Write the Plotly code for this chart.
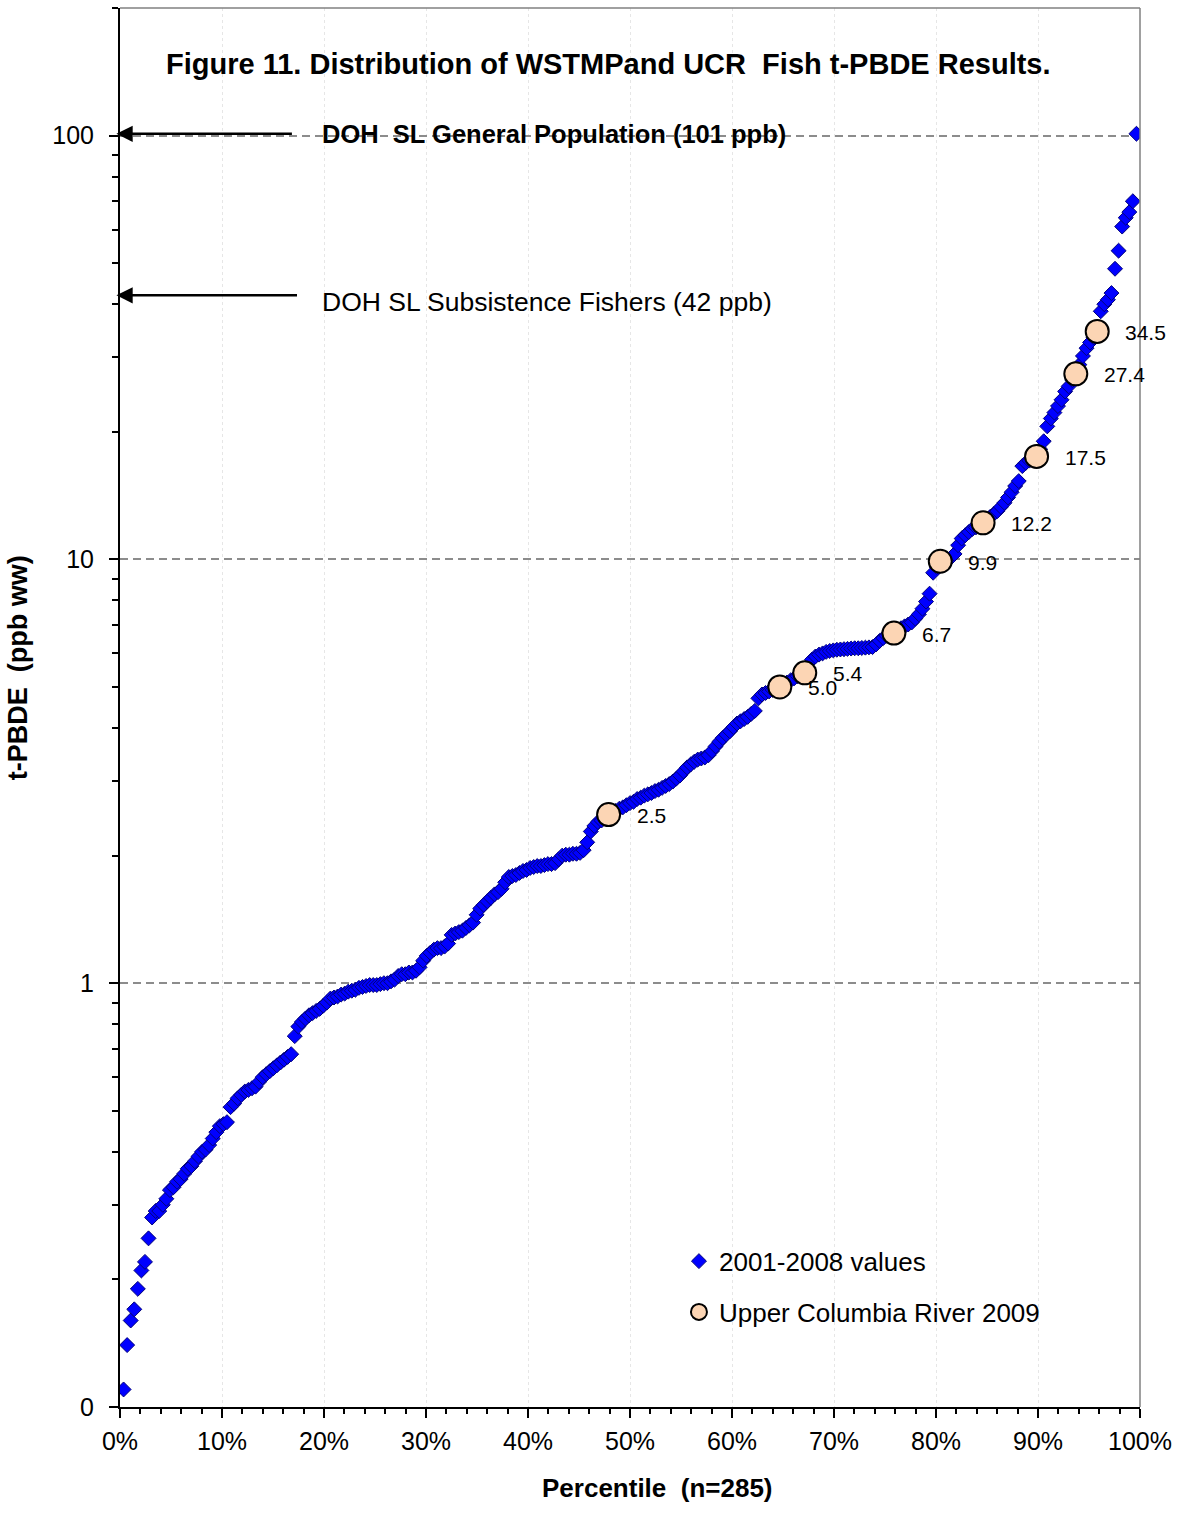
import numpy as np
import plotly.graph_objects as go

# 2001-2008 WSTMP t-PBDE values (ppb ww), sorted
wstmp_values = [
    0.11, 0.14, 0.16, 0.17, 0.19, 0.21, 0.22, 0.25, 0.28, 0.29,
    0.29, 0.30, 0.31, 0.325, 0.33, 0.34, 0.345, 0.355, 0.365, 0.37,
    0.38, 0.39, 0.40, 0.405, 0.415, 0.43, 0.445, 0.46, 0.465, 0.47,
    0.51, 0.52, 0.535, 0.545, 0.555, 0.56, 0.565, 0.57, 0.585, 0.60,
    0.61, 0.62, 0.63, 0.64, 0.65, 0.66, 0.67, 0.68, 0.75, 0.79,
    0.81, 0.825, 0.84, 0.85, 0.86, 0.87, 0.885, 0.90, 0.92, 0.925,
    0.93, 0.94, 0.945, 0.955, 0.96, 0.965, 0.975, 0.98, 0.985, 0.99,
    0.99, 0.99, 0.995, 1.00, 1.00, 1.01, 1.02, 1.04, 1.05, 1.05,
    1.06, 1.06, 1.07, 1.09, 1.13, 1.16, 1.18, 1.20, 1.21, 1.21,
    1.22, 1.24, 1.30, 1.31, 1.32, 1.33, 1.35, 1.37, 1.39, 1.45,
    1.50, 1.53, 1.56, 1.59, 1.62, 1.64, 1.67, 1.73, 1.78, 1.79,
    1.80, 1.82, 1.84, 1.85, 1.87, 1.88, 1.89, 1.89, 1.90, 1.91,
    1.91, 1.92, 1.96, 2.00, 2.01, 2.01, 2.02, 2.02, 2.03, 2.06,
    2.15, 2.28, 2.35, 2.40, 2.42, 2.45,
    2.52, 2.55, 2.58, 2.60, 2.63, 2.66,
    2.68, 2.72, 2.74, 2.77, 2.79, 2.81, 2.84,
    2.86, 2.89, 2.92, 2.95, 2.99, 3.04, 3.09, 3.16, 3.23, 3.28,
    3.33, 3.37, 3.39, 3.41, 3.45, 3.53, 3.62, 3.71, 3.79, 3.86,
    3.93, 4.02, 4.10, 4.15, 4.20, 4.25, 4.32, 4.39, 4.70, 4.80,
    4.84, 4.88, 4.92, 4.96,
    5.05, 5.12, 5.18, 5.24, 5.30, 5.36,
    5.55, 5.80, 5.90, 5.96, 6.00, 6.05, 6.08, 6.10,
    6.12, 6.13, 6.14, 6.15, 6.16, 6.17, 6.17, 6.18, 6.19, 6.20,
    6.21, 6.30, 6.42, 6.52, 6.60, 6.65,
    6.80, 6.88, 6.95, 7.02, 7.10, 7.25, 7.42, 7.65, 7.95, 8.30, 9.30, 9.60,
    9.95, 10.0, 10.1, 10.3, 10.8, 11.2, 11.4, 11.6, 11.8, 11.9, 12.0,
    12.4, 12.6, 12.8, 13.0, 13.3, 13.6, 14.0, 14.4, 14.9, 15.3, 16.6, 16.9, 17.1, 17.3,
    18.2, 19.0, 20.6, 21.5, 22.2, 23.0, 23.8, 24.9, 25.6, 26.5,
    28.8, 30.2, 31.5, 32.5, 33.4,
    38.5, 40.0, 41.0, 42.5, 48.5, 53.5, 61.0, 64.0, 66.0, 70.0, 101.0,
]

# Upper Columbia River 2009 values (ppb ww)
ucr_values = [2.5, 5.0, 5.4, 6.7, 9.9, 12.2, 17.5, 27.4, 34.5]
ucr_labels = ["2.5", "5.0", "5.4", "6.7", "9.9", "12.2", "17.5", "27.4", "34.5"]

# Screening levels
sl_general = 101
sl_subsistence = 42

x_tick_vals = [0, 10, 20, 30, 40, 50, 60, 70, 80, 90, 100]
x_tick_text = ["0%", "10%", "20%", "30%", "40%", "50%", "60%", "70%", "80%", "90%", "100%"]
y_tick_vals = [0.1, 1, 10, 100]
y_tick_text = ["0", "1", "10", "100"]

# ---- percentile ranks over the combined data set ----
combined = np.array(wstmp_values + ucr_values, dtype=float)
is_ucr = np.array([False] * len(wstmp_values) + [True] * len(ucr_values))
order = np.argsort(combined, kind="stable")
n_total = len(combined)
pct = np.empty(n_total)
pct[order] = (np.arange(1, n_total + 1) / (n_total + 1)) * 100.0
w_pct = pct[~is_ucr]
u_pct = pct[is_ucr]

FONT = "Liberation Sans, Arial, sans-serif"

fig = go.Figure()
fig.add_trace(go.Scatter(
    x=w_pct, y=wstmp_values, mode="markers", name="2001-2008 values",
    legendgroup="a",
    marker=dict(symbol="diamond", size=11.5, color="#0000FF",
                line=dict(color="#00007A", width=1)),
))
fig.add_trace(go.Scatter(
    x=u_pct, y=ucr_values, mode="markers", name="Upper Columbia River 2009",
    legendgroup="b",
    marker=dict(symbol="circle", size=23, color="#FCD5B4",
                line=dict(color="black", width=2)),
))

annotations = []
for xv, yv, lab in zip(u_pct, ucr_values, ucr_labels):
    annotations.append(dict(
        x=xv, y=np.log10(yv), xref="x", yref="y", text=lab, showarrow=False,
        xanchor="left", yanchor="middle", xshift=26, yshift=-1,
        font=dict(family=FONT, size=21, color="black"),
    ))

# arrows for screening levels
for val, tail in [(sl_general, 17.0), (sl_subsistence, 17.5)]:
    annotations.append(dict(
        x=-0.35, y=np.log10(val), xref="x", yref="y",
        ax=tail, ay=np.log10(val), axref="x", ayref="y",
        showarrow=True, arrowhead=2, arrowsize=1.3, arrowwidth=2.5,
        arrowcolor="black", text="",
    ))
annotations.append(dict(
    x=19.6, y=np.log10(sl_general), xref="x", yref="y",
    text="<b>DOH  SL General Population (101 ppb)</b>", showarrow=False,
    xanchor="left", yanchor="middle",
    font=dict(family=FONT, size=25.5, color="black"),
))
annotations.append(dict(
    x=19.6, y=np.log10(40.5), xref="x", yref="y",
    text="DOH SL Subsistence Fishers (42 ppb)", showarrow=False,
    xanchor="left", yanchor="middle",
    font=dict(family=FONT, size=26.5, color="black"),
))
# title
annotations.append(dict(
    x=0.479, y=0.96, xref="paper", yref="paper",
    text="<b>Figure 11. Distribution of WSTMPand UCR  Fish t-PBDE Results.</b>",
    showarrow=False, xanchor="center", yanchor="middle",
    font=dict(family=FONT, size=29, color="black"),
))
# axis titles
annotations.append(dict(
    x=0.527, y=-0.058, xref="paper", yref="paper",
    text="<b>Percentile  (n=285)</b>", showarrow=False,
    xanchor="center", yanchor="middle",
    font=dict(family=FONT, size=26, color="black"),
))
annotations.append(dict(
    x=-0.1, y=0.528, xref="paper", yref="paper",
    text="<b>t-PBDE  (ppb ww)</b>", showarrow=False, textangle=-90,
    xanchor="center", yanchor="middle",
    font=dict(family=FONT, size=27, color="black"),
))

minor_y = []
for dec in [0.1, 1, 10, 100]:
    for m in range(2, 10):
        v = dec * m
        if v <= 200:
            minor_y.append(v)

fig.update_layout(
    width=1183, height=1515,
    margin=dict(l=120, r=43, t=8, b=108),
    paper_bgcolor="white", plot_bgcolor="white",
    font=dict(family=FONT, color="black"),
    showlegend=True,
    legend=dict(
        x=0.548, y=0.121, xanchor="left", yanchor="top",
        font=dict(family=FONT, size=26, color="black"),
        bgcolor="rgba(0,0,0,0)", traceorder="grouped", tracegroupgap=14,
        itemwidth=30,
    ),
    annotations=annotations,
    shapes=[
        dict(type="line", xref="paper", yref="paper", x0=1, x1=1, y0=0, y1=1,
             line=dict(color="#808080", width=1.5)),
        dict(type="line", xref="paper", yref="paper", x0=0, x1=1, y0=1, y1=1,
             line=dict(color="#808080", width=1.5)),
    ],
)

fig.update_xaxes(
    range=[0, 100], tickmode="array", tickvals=x_tick_vals, ticktext=x_tick_text,
    ticks="outside", ticklen=9, tickwidth=1.5, tickcolor="black",
    showline=True, linecolor="black", linewidth=2,
    showgrid=True, gridcolor="#e6e6e6", gridwidth=1, griddash="dot",
    zeroline=False,
    tickfont=dict(family=FONT, size=25, color="black"),
    ticklabelstandoff=2,
    minor=dict(dtick=2, ticks="outside", ticklen=5, tickcolor="black",
               showgrid=False),
)
fig.update_yaxes(
    type="log", range=[-1, np.log10(200)],
    tickvals=y_tick_vals, ticktext=y_tick_text,
    ticks="outside", ticklen=9, tickwidth=1.5, tickcolor="black",
    showline=True, linecolor="black", linewidth=2,
    showgrid=True, gridcolor="#8c8c8c", gridwidth=1.5, griddash="8px,5px",
    zeroline=False,
    tickfont=dict(family=FONT, size=25, color="black"),
    ticklabelstandoff=10,
    minor=dict(tickmode="array", tickvals=minor_y, ticks="outside",
               ticklen=6, tickcolor="black", showgrid=False),
)

fig.write_html("out.html")
